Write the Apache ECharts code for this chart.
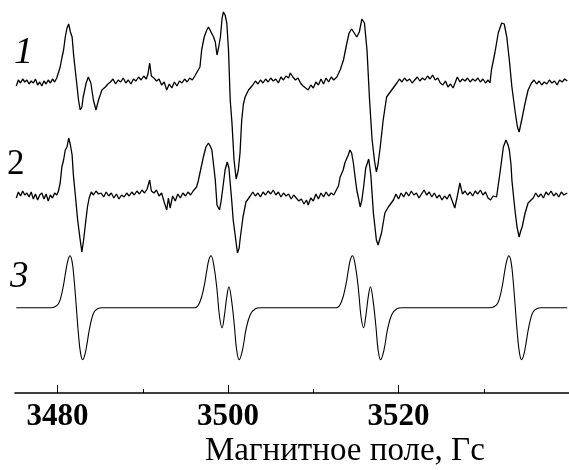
<!DOCTYPE html>
<html>
<head>
<meta charset="utf-8">
<script src="https://cdn.jsdelivr.net/npm/echarts@6/dist/echarts.min.js"></script>
<style>html,body{margin:0;padding:0;background:#fff;}#c{width:569px;height:470px;}</style>
</head>
<body>
<div id="c"></div>
<script>
// Field (Gs) and signal (arbitrary units, baseline = 0)
const trace1 = [[3475.15,-4],[3475.4,2],[3475.65,-1],[3475.9,3],[3476.15,0],[3476.4,2],[3476.65,-2],[3476.9,1],[3477.15,-1],[3477.4,3],[3477.65,-3],[3477.9,0],[3478.15,-4],[3478.4,1],[3478.65,-2],[3478.9,2],[3479.15,-1],[3479.4,3],[3479.65,0],[3479.9,4],
[3480.05,5],[3480.3,15],[3480.5,24],[3480.7,32],[3480.9,45],[3481.1,54],[3481.3,58],[3481.5,50],[3481.7,45],[3481.9,25],[3482.2,2],[3482.45,-18],[3482.65,-28],[3482.85,-25],[3483.0,-15],[3483.2,-7],[3483.35,-1],[3483.6,5],[3483.9,-1],[3484.2,-18],[3484.5,-28],[3484.8,-18],[3485.2,-8],[3485.6,-5],[3485.9,-2],[3486.2,0],
[3486.5,3],[3486.8,-2],[3487.1,2],[3487.4,0],[3487.7,4],[3488.0,-1],[3488.3,2],[3488.6,-2],[3488.9,3],[3489.2,1],[3489.5,5],[3489.8,2],[3490.1,6],[3490.4,3],[3490.6,8],[3490.8,19],[3491.0,6],[3491.3,4],[3491.6,1],[3491.9,3],[3492.2,-3],[3492.5,0],[3492.8,-8],[3493.1,-2],[3493.4,-6],[3493.7,0],[3494.0,-4],[3494.3,1],[3494.6,-1],[3494.9,3],[3495.2,0],[3495.5,4],[3495.8,2],[3496.1,6],
[3496.3,9],[3496.5,12],[3496.7,15],[3496.9,32],[3497.2,45],[3497.5,52],[3497.7,55],[3498.0,50],[3498.3,45],[3498.5,40],[3498.7,27],[3498.9,35],[3499.1,45],[3499.3,64],[3499.45,70],[3499.65,67],[3499.85,59],[3500.05,32],[3500.25,-18],[3500.45,-40],[3500.7,-78],[3500.95,-97],[3501.2,-88],[3501.4,-71],[3501.6,-38],[3501.8,-22],[3502.0,-15],[3502.4,-8],[3502.9,-3],
[3503.2,1],[3503.5,-2],[3503.8,2],[3504.1,-1],[3504.4,3],[3504.7,0],[3505.0,4],[3505.3,1],[3505.6,3],[3505.9,-1],[3506.2,5],[3506.5,2],[3506.8,6],[3507.1,4],[3507.3,9],[3507.6,5],[3507.9,2],[3508.2,4],[3508.5,-1],[3508.8,-4],[3509.1,-6],[3509.4,-8],[3509.7,-3],[3510.0,-6],[3510.3,0],[3510.6,-3],[3510.9,3],[3511.2,-2],[3511.5,4],[3511.8,0],[3512.1,5],[3512.4,2],[3512.76,5],
[3513.15,12],[3513.54,22],[3513.94,39],[3514.2,49],[3514.5,53],[3514.8,49],[3515.1,45],[3515.4,50],[3515.7,63],[3516.0,59],[3516.3,32],[3516.6,-18],[3516.9,-58],[3517.2,-80],[3517.4,-90],[3517.6,-82],[3517.85,-65],[3518.2,-38],[3518.6,-15],[3519.2,-8],[3519.8,-1],
[3520.1,3],[3520.4,0],[3520.7,4],[3521.0,1],[3521.3,3],[3521.6,-1],[3521.9,2],[3522.2,5],[3522.5,1],[3522.8,4],[3523.1,2],[3523.4,6],[3523.7,3],[3524.0,7],[3524.3,2],[3524.6,4],[3524.9,-1],[3525.2,-3],[3525.5,1],[3525.8,-5],[3526.1,-2],[3526.4,-6],[3526.6,-8],[3526.9,5],[3527.2,0],[3527.5,3],[3527.8,1],[3528.1,4],[3528.4,0],[3528.7,3],[3529.0,1],[3529.3,4],[3529.6,0],[3529.9,3],[3530.2,-1],[3530.5,2],[3530.73,-1],
[3530.9,12],[3531.3,29],[3531.7,49],[3532.1,59],[3532.4,58],[3532.7,45],[3533.0,22],[3533.3,-5],[3533.7,-31],[3533.95,-45],[3534.15,-50],[3534.45,-38],[3534.85,-21],[3535.2,-8],[3535.6,-1],
[3535.9,2],[3536.2,-2],[3536.5,1],[3536.8,-3],[3537.1,0],[3537.4,-2],[3537.7,2],[3538.0,-1],[3538.3,1],[3538.6,-3],[3538.9,2],[3539.2,0],[3539.5,3],[3539.8,1]];

const trace2 = [[3475.15,-2],[3475.4,4],[3475.65,0],[3475.9,5],[3476.15,1],[3476.4,3],[3476.65,-1],[3476.9,4],[3477.15,-3],[3477.4,2],[3477.65,-4],[3477.9,1],[3478.15,3],[3478.4,-3],[3478.65,2],[3478.9,-5],[3479.15,1],[3479.4,-2],[3479.65,3],[3479.9,1],[3480.1,5],
[3480.3,13],[3480.5,29],[3480.7,36],[3480.9,46],[3481.1,49],[3481.3,58],[3481.5,51],[3481.7,41],[3481.85,21],[3482.1,-1],[3482.35,-24],[3482.65,-44],[3482.85,-56],[3483.05,-44],[3483.25,-29],[3483.5,-11],[3483.7,-2],[3483.95,4],
[3484.2,1],[3484.5,5],[3484.8,2],[3485.1,3],[3485.4,-1],[3485.7,4],[3486.0,0],[3486.3,3],[3486.6,-2],[3486.9,2],[3487.2,-3],[3487.5,1],[3487.8,-1],[3488.1,3],[3488.4,0],[3488.7,4],[3489.0,1],[3489.3,5],[3489.6,2],[3489.9,6],[3490.2,3],[3490.5,7],[3490.8,16],[3491.0,5],[3491.3,3],[3491.6,6],[3491.9,0],[3492.2,3],[3492.5,-6],[3492.8,-14],[3493.0,-2],[3493.2,-12],[3493.5,0],[3493.8,-5],[3494.1,2],[3494.4,-2],[3494.7,3],[3495.0,0],[3495.3,4],[3495.6,1],[3495.9,5],[3496.1,3],
[3496.3,9],[3496.5,15],[3496.7,23],[3497.1,39],[3497.4,49],[3497.7,53],[3497.9,50],[3498.1,46],[3498.3,31],[3498.5,16],[3498.7,-9],[3499.0,-14],[3499.2,-4],[3499.4,9],[3499.65,26],[3499.9,34],[3500.1,28],[3500.45,-7],[3500.6,-24],[3500.8,-37],[3501.1,-57],[3501.3,-52],[3501.4,-44],[3501.75,-21],[3502.1,-6],[3502.6,0],
[3502.9,4],[3503.2,0],[3503.5,3],[3503.8,-1],[3504.1,4],[3504.4,1],[3504.7,5],[3505.0,2],[3505.3,6],[3505.6,1],[3505.9,4],[3506.2,-1],[3506.5,3],[3506.8,0],[3507.1,2],[3507.4,-3],[3507.7,1],[3508.0,-2],[3508.3,-5],[3508.6,-3],[3508.9,-8],[3509.2,-4],[3509.4,-9],[3509.7,-2],[3510.0,-5],[3510.3,2],[3510.6,-3],[3510.9,3],[3511.2,-1],[3511.5,4],[3511.8,0],[3512.1,3],[3512.4,1],[3512.7,6],[3512.95,10],
[3513.15,19],[3513.5,26],[3513.7,33],[3514.1,41],[3514.3,46],[3514.5,43],[3514.7,33],[3514.9,19],[3515.1,6],[3515.3,-2],[3515.5,-11],[3515.7,-4],[3515.9,9],[3516.15,28],[3516.5,37],[3516.75,21],[3517.05,-17],[3517.4,-44],[3517.6,-49],[3517.75,-51],[3518.0,-37],[3518.4,-17],[3518.8,-11],[3519.4,-4],
[3519.7,2],[3520.0,-3],[3520.3,3],[3520.6,-1],[3520.9,4],[3521.2,0],[3521.5,5],[3521.8,1],[3522.1,3],[3522.4,-2],[3522.7,2],[3523.0,6],[3523.3,1],[3523.6,4],[3523.9,-1],[3524.2,3],[3524.5,-2],[3524.8,1],[3525.1,-4],[3525.4,0],[3525.7,-3],[3526.0,2],[3526.3,-5],[3526.6,-12],[3526.9,0],[3527.2,13],[3527.5,2],[3527.8,5],[3528.1,1],[3528.4,4],[3528.7,0],[3529.0,5],[3529.3,2],[3529.6,6],[3529.9,1],[3530.2,4],[3530.5,-2],[3530.8,-4],[3531.1,0],[3531.5,-1],
[3531.7,11],[3531.9,23],[3532.1,36],[3532.3,49],[3532.6,56],[3532.85,51],[3533.0,46],[3533.2,31],[3533.3,16],[3533.5,-1],[3533.7,-17],[3533.9,-31],[3534.15,-41],[3534.3,-36],[3534.5,-31],[3534.85,-17],[3535.2,-7],[3535.8,-2],
[3536.1,3],[3536.4,-1],[3536.7,2],[3537.0,-2],[3537.3,4],[3537.6,1],[3537.9,5],[3538.2,0],[3538.5,3],[3538.8,-1],[3539.1,4],[3539.4,1],[3539.8,3]];

const trace3 = [[3475.15,0],[3479.2,0],[3479.7,1],[3480.1,4],[3480.4,11],[3480.7,23],[3480.95,36],[3481.2,47],[3481.45,52],[3481.7,46],[3481.95,27],[3482.2,0],[3482.45,-27],[3482.7,-46],[3482.95,-52],[3483.2,-47],[3483.45,-36],[3483.7,-23],[3484.0,-11],[3484.3,-4],[3484.7,-1],[3485.2,0],
[3496.1,0],[3496.7,6],[3497.2,22],[3497.5,37],[3497.75,48],[3498.0,52],[3498.35,41],[3498.7,18],[3499.0,-9],[3499.3,-20],[3499.55,-9],[3499.85,11],[3500.1,21],[3500.4,8],[3500.75,-19],[3501.0,-42],[3501.3,-52],[3501.7,-42],[3502.1,-22],[3502.6,-7],[3503.2,-1],[3503.8,0],
[3512.7,0],[3513.3,6],[3513.8,22],[3514.1,37],[3514.35,48],[3514.6,52],[3514.95,41],[3515.3,18],[3515.6,-9],[3515.9,-20],[3516.15,-9],[3516.45,11],[3516.7,21],[3517.0,8],[3517.35,-19],[3517.6,-42],[3517.9,-52],[3518.3,-42],[3518.7,-22],[3519.2,-7],[3519.8,-1],[3520.4,0],
[3530.7,0],[3531.2,1],[3531.6,4],[3531.9,11],[3532.2,23],[3532.45,36],[3532.7,47],[3532.95,52],[3533.2,46],[3533.45,27],[3533.7,0],[3533.95,-27],[3534.2,-46],[3534.45,-52],[3534.7,-47],[3534.95,-36],[3535.2,-23],[3535.5,-11],[3535.8,-4],[3536.2,-1],[3536.7,0],[3539.8,0]];

const majorTicks = [3480, 3500, 3520];
const minorTicks = [3490, 3510, 3530];
const traceLabels = ['1', '2', '3'];
const axisTitle = 'Магнитное поле, Гс';

const offsets = [311, 197, 85.3];
const shift = (arr, off) => arr.map(p => [p[0], p[1] + off]);

const chart = echarts.init(document.getElementById('c'), null, {renderer: 'canvas'});
const serif = '"Liberation Serif", "Times New Roman", serif';
const lineBase = {type: 'line', showSymbol: false, symbol: 'none', animation: false,
  xAxisIndex: 0, yAxisIndex: 0, lineStyle: {color: '#000', width: 1.3}, silent: true};

chart.setOption({
  animation: false,
  backgroundColor: '#fff',
  grid: {left: 15, right: 0, top: 0, bottom: 77, containLabel: false},
  xAxis: [{
    type: 'value', min: 3475, max: 3540,
    axisLine: {show: true, lineStyle: {color: '#000', width: 1.5}},
    axisTick: {show: true, inside: true, length: 8, customValues: majorTicks, lineStyle: {color: '#000', width: 1}},
    axisLabel: {show: true, customValues: majorTicks, margin: 8, color: '#000',
      fontFamily: serif, fontWeight: 'bold', fontSize: 31, formatter: v => String(v)},
    splitLine: {show: false}
  }, {
    type: 'value', min: 3475, max: 3540, position: 'bottom',
    axisLine: {show: false},
    axisTick: {show: true, inside: true, length: 4, customValues: minorTicks, lineStyle: {color: '#000', width: 1}},
    axisLabel: {show: false},
    splitLine: {show: false}
  }],
  yAxis: {type: 'value', min: 0, max: 393, show: false},
  series: [
    Object.assign({}, lineBase, {data: shift(trace1, offsets[0])}),
    Object.assign({}, lineBase, {data: shift(trace2, offsets[1])}),
    Object.assign({}, lineBase, {data: shift(trace3, offsets[2]), smooth: 0.4, lineStyle: {color: '#000', width: 1.1}})
  ],
  graphic: [
    {type: 'text', x: 14, y: 53, style: {text: traceLabels[0], font: 'italic 38px ' + serif, fill: '#000', verticalAlign: 'middle'}},
    {type: 'text', x: 7, y: 165, style: {text: traceLabels[1], font: '35px ' + serif, fill: '#000', verticalAlign: 'middle'}},
    {type: 'text', x: 10, y: 277, style: {text: traceLabels[2], font: 'italic 37px ' + serif, fill: '#000', verticalAlign: 'middle'}},
    {type: 'text', x: 205, y: 451, style: {text: axisTitle, font: '33px ' + serif, fill: '#000', verticalAlign: 'middle'}}
  ]
});
</script>
</body>
</html>
